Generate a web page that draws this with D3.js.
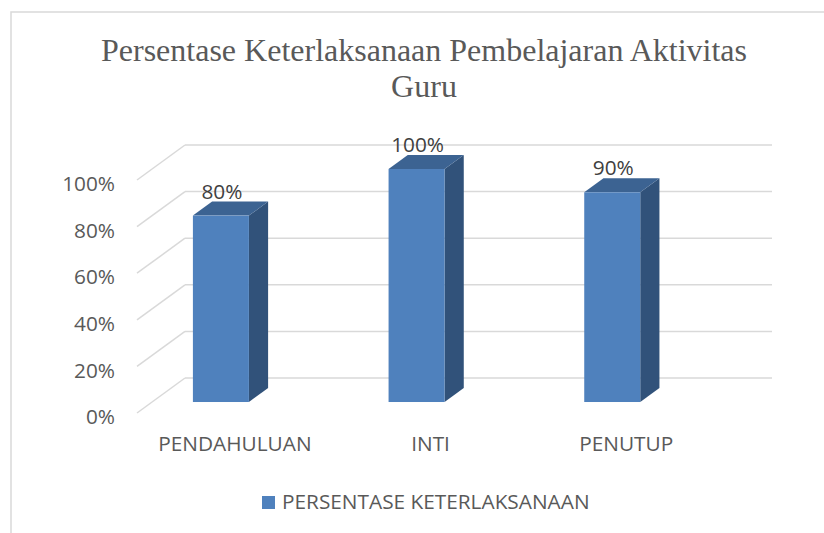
<!DOCTYPE html>
<html>
<head>
<meta charset="utf-8">
<script src="https://cdn.jsdelivr.net/npm/d3@7"></script>
<style>
  html, body { margin: 0; padding: 0; background: #fff; }
  svg { display: block; }
</style>
</head>
<body>
<svg id="chart" width="824" height="533"></svg>
<script>
// ---- data ----
const categories = ["PENDAHULUAN", "INTI", "PENUTUP"];
const values = [0.8, 1.0, 0.9];
const tickValues = [0, 0.2, 0.4, 0.6, 0.8, 1.0];
const seriesName = "PERSENTASE KETERLAKSANAAN";
const titleLines = ["Persentase Keterlaksanaan Pembelajaran Aktivitas", "Guru"];

// ---- setup ----
const svg = d3.select("#chart");
const W = 824, H = 533;
const FS = 20.8;
svg.append("rect").attr("width", W).attr("height", H).attr("fill", "#fff");

// chart border
svg.append("rect")
  .attr("x", 11).attr("y", 12)
  .attr("width", 840).attr("height", 560)
  .attr("fill", "none").attr("stroke", "#d9d9d9").attr("stroke-width", 1.5);

// title
svg.append("g").selectAll("text").data(titleLines).join("text")
  .attr("x", 424).attr("y", (d, i) => 61 + i * 36)
  .attr("text-anchor", "middle")
  .attr("font-family", "'Liberation Serif', 'Times New Roman', serif")
  .attr("font-size", 32)
  .attr("fill", "#595959")
  .text(d => d);

// 3D projection parameters
const DX = 48, DY = -35;       // full-depth offset
const d1 = 0.314, d2 = 0.714;  // bar front/back depth
const y = d3.scaleLinear().domain([0, 1]).range([413, 180]); // front plane
const x = d3.scaleBand().domain(categories).range([108, 695]); // front plane
const bw = 56;
const wallRight = 772;

// gridlines: side wall diagonals + back wall horizontals
const grid = svg.append("g").attr("stroke", "#d9d9d9").attr("stroke-width", 1.5).attr("fill", "none");
grid.selectAll("line.diag").data(tickValues).join("line")
  .attr("class", "diag")
  .attr("x1", 137).attr("y1", d => y(d))
  .attr("x2", 137 + DX).attr("y2", d => y(d) + DY);
grid.selectAll("line.back").data(tickValues).join("line")
  .attr("class", "back")
  .attr("x1", 137 + DX).attr("y1", d => y(d) + DY)
  .attr("x2", wallRight).attr("y2", d => y(d) + DY);

// y axis labels
const yAxis = d3.axisLeft(y).tickValues(tickValues).tickFormat(d3.format(".0%")).tickSize(0).tickPadding(3);
const ax = svg.append("g").attr("transform", "translate(118,4)").call(yAxis);
ax.select(".domain").remove();
ax.selectAll("text")
  .attr("font-family", "'Open Sans', sans-serif")
  .attr("font-size", FS)
  .attr("fill", "#595959");

// bars
const P = (px, py, d) => [px + d * DX, py + d * DY];
const bars = svg.append("g");
categories.forEach((c, i) => {
  const v = values[i];
  const xl = x(c) + x.bandwidth() / 2 - bw / 2;
  const xr = xl + bw;
  const yt = y(v), yb = y(0);
  const g = bars.append("g");
  // side face
  g.append("polygon")
    .attr("points", [P(xr, yt, d1), P(xr, yt, d2), P(xr, yb, d2), P(xr, yb, d1)].map(p => p.join(",")).join(" "))
    .attr("fill", "#31527a");
  // top face
  g.append("polygon")
    .attr("points", [P(xl, yt, d1), P(xr, yt, d1), P(xr, yt, d2), P(xl, yt, d2)].map(p => p.join(",")).join(" "))
    .attr("fill", "#3c6392");
  // front face
  const f1 = P(xl, yt, d1), f2 = P(xr, yb, d1);
  g.append("rect")
    .attr("x", f1[0]).attr("y", f1[1])
    .attr("width", f2[0] - f1[0]).attr("height", f2[1] - f1[1])
    .attr("fill", "#4f81bd");
  // data label
  g.append("text")
    .attr("x", f1[0] + bw / 2 + 1)
    .attr("y", f1[1] - 17)
    .attr("text-anchor", "middle")
    .attr("font-family", "'Open Sans', sans-serif")
    .attr("font-size", FS)
    .attr("fill", "#404040")
    .text(d3.format(".0%")(v));
});

// category labels
svg.append("g").selectAll("text").data(categories).join("text")
  .attr("x", d => x(d) + x.bandwidth() / 2 + d1 * DX + 14)
  .attr("y", 451)
  .attr("text-anchor", "middle")
  .attr("font-family", "'Open Sans', sans-serif")
  .attr("font-size", FS)
  .attr("fill", "#595959")
  .text(d => d);

// legend
const lg = svg.append("g");
lg.append("rect").attr("x", 262).attr("y", 496).attr("width", 13).attr("height", 13).attr("fill", "#4f81bd");
lg.append("text")
  .attr("x", 282).attr("y", 509)
  .attr("font-family", "'Open Sans', sans-serif")
  .attr("font-size", FS)
  .attr("fill", "#595959")
  .text(seriesName);
</script>
</body>
</html>
